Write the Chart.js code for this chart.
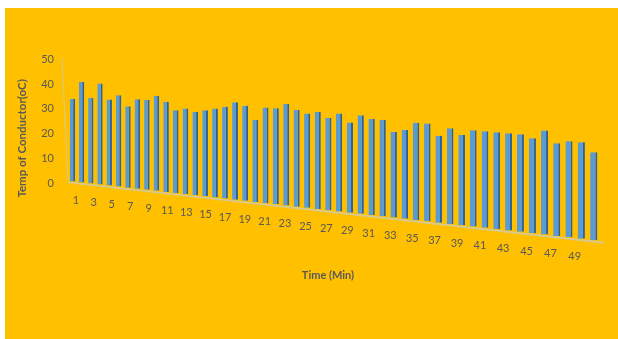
<!DOCTYPE html>
<html>
<head>
<meta charset="utf-8">
<script src="https://cdn.jsdelivr.net/npm/chart.js@4.4.1/dist/chart.umd.min.js"></script>
<style>
body{margin:0;background:#fff;}
#wrap{position:relative;width:618px;height:339px;}
#panel{position:absolute;left:5px;top:8px;right:0;bottom:0;background:#FFC000;}
#canvasTemp{position:absolute;left:0;top:0;}
</style>
</head>
<body>
<div id="wrap">
    <div id="panel"></div>
    <canvas id="canvasTemp" width="618" height="339"></canvas>
</div>
<script>

let minutes=[1,2,3,4,5,6,7,8,9,10,11,12,13,14,15,16,17,18,19,20,21,22,23,24,25,
    26,27,28,29,30,31,32,33,34,35,36,37,38,39,40,41,42,43,44,45,46,47,48,49,50]

let temps=[33,40,34,40,34,36,32,35,35,37,35,32,33,32,33,34,35,37,36,31,
    36,36,38,36,35,36,34,36,33,36,35,35,31,32,35,35,31,34,32,34,
    34,34,34,34,33,36,32,33,33,30]

let tempTicks=[0,10,20,30,40,50]

let textColor='#595959'
let floorColor='#D8C98C'

// perspective of the 3d view: right end of the floor is nearer the viewer
let depth=-0.15
let floorSlope=0.1127

function squeeze(u){
    return u*(1+depth)/(1+depth*u)
}

function screenX(xs,u){
    return xs.left+6+xs.width*squeeze(u)
}

function floorY(xs,ys,x){
    return ys.getPixelForValue(0)-3.6+floorSlope*(x-xs.left)
}

let perspective={
    id:'perspective',
    beforeDatasetsDraw(chart){
        let xs=chart.scales.x
        let ys=chart.scales.y
        let ctx=chart.ctx
        let zero=ys.getPixelForValue(0)

        // floor edge and back wall edge
        ctx.save()
        ctx.strokeStyle=floorColor
        ctx.lineWidth=2
        ctx.beginPath()
        let fx0=screenX(xs,0)
        let fx1=screenX(xs,1)+4
        ctx.moveTo(fx0,floorY(xs,ys,fx0)+1.5)
        ctx.lineTo(fx1,floorY(xs,ys,fx1)+1.5)
        ctx.stroke()
        ctx.lineWidth=1
        ctx.beginPath()
        ctx.moveTo(xs.left,ys.top-1)
        ctx.lineTo(fx0,floorY(xs,ys,fx0))
        ctx.stroke()
        ctx.restore()

        let meta=chart.getDatasetMeta(0)
        for (let i=0;i<meta.data.length;i++){
            let bar=meta.data[i]
            let u=(xs.getPixelForValue(i)-xs.left)/xs.width
            let x=screenX(xs,u)
            let base=floorY(xs,ys,x)
            let h=(zero-ys.getPixelForValue(temps[i]))/(1+depth*u)
            bar.x=x
            bar.base=base
            bar.y=base-h
            bar.width=xs.width/minutes.length*0.58*(1+depth)/Math.pow(1+depth*u,2)
        }
    },
    afterDatasetsDraw(chart){
        let xs=chart.scales.x
        let ys=chart.scales.y
        let ctx=chart.ctx
        ctx.save()
        ctx.fillStyle=textColor
        ctx.font='11px Lato'
        ctx.textAlign='center'
        ctx.textBaseline='middle'
        for (let i=0;i<minutes.length;i+=2){
            let u=(xs.getPixelForValue(i)-xs.left)/xs.width
            let lx=screenX(xs,u)+3.5-10.5*u
            ctx.fillText(String(minutes[i]),lx,floorY(xs,ys,lx)+18.5)
        }

        // value axis title
        ctx.font='bold 11.5px Lato'
        ctx.translate(ys.left-16,(ys.top+ys.bottom)/2+17)
        ctx.rotate(-Math.PI/2)
        ctx.fillText('Temp of Conductor(oC)',0,0)
        ctx.restore()
    }
}

function buildTempChart(){
    let myChart={
        type:'bar',
        data:{
            labels:minutes,
            datasets:[{
                label:'Temp of Conductor',
                data:temps,
                backgroundColor:'#5B9BD5',
                borderColor:'#2F6393',
                borderWidth:{top:0,right:2,bottom:0,left:0},
                borderSkipped:false,
                barPercentage:0.58,
                categoryPercentage:1,
                clip:false
            }]
        },
        options:{
            responsive:false,
            animation:false,
            events:[],
            layout:{padding:{left:38,top:59,right:24,bottom:0}},
            plugins:{
                legend:{display:false},
                tooltip:{enabled:false}
            },
            scales:{
                x:{
                    grid:{display:false,drawTicks:false},
                    border:{display:false},
                    ticks:{display:false},
                    title:{
                        display:true,
                        text:'Time (Min)',
                        color:textColor,
                        font:{family:'Lato',size:11,weight:'bold'},
                        padding:{top:85,bottom:57}
                    }
                },
                y:{
                    min:0,
                    max:50,
                    grid:{display:false,drawTicks:false},
                    border:{display:false},
                    afterBuildTicks(scale){
                        scale.ticks=tempTicks.map(v=>({value:v}))
                    },
                    afterFit(scale){
                        scale.width=24
                    },
                    ticks:{
                        color:textColor,
                        font:{family:'Lato',size:11},
                        padding:8
                    }
                }
            }
        },
        plugins:[perspective]
    }

    let ctx=document.getElementById('canvasTemp').getContext('2d')
    new Chart(ctx,myChart)
}

buildTempChart()

</script>
</body>
</html>
